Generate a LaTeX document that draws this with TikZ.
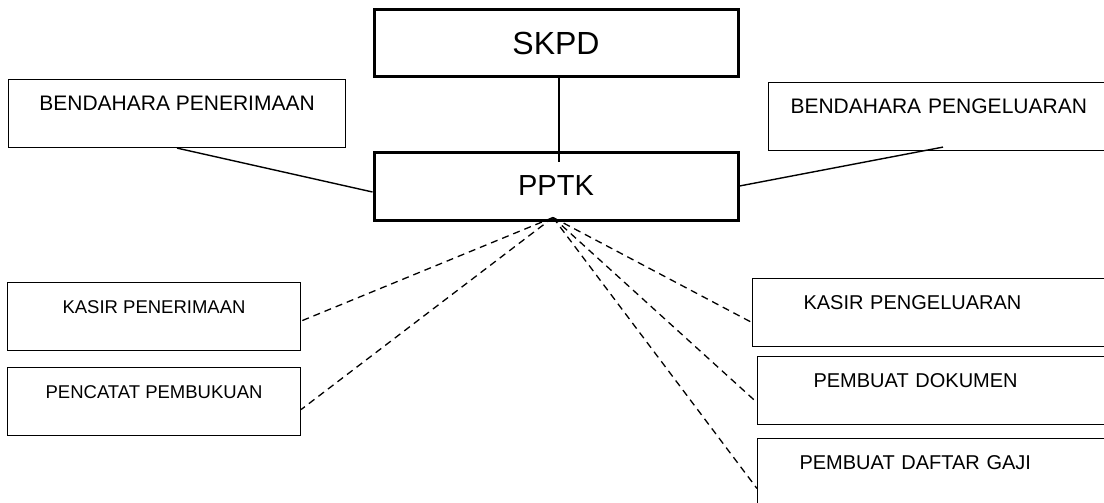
\documentclass[tikz,border=0pt]{standalone}
\usepackage{fontspec}
\setmainfont{Liberation Sans}
\begin{document}
\begin{tikzpicture}[x=1pt,y=-1pt,
  unit/.style={draw,line width=1.1pt,inner ysep=0pt,text height=31pt,text depth=37pt,font=\fontsize{20}{24}\selectfont},
  lbox/.style={unit,anchor=north west,minimum width=#1},
  rbox/.style={unit,anchor=north west,align=left,text width=420pt,inner xsep=#1},
  head/.style={draw,line width=3pt,minimum width=364pt,minimum height=67pt,font=\fontsize{30}{36}\selectfont},
  link/.style={line width=1.4pt},
  sub/.style={line width=1.3pt,dash pattern=on 7pt off 5pt}]
\useasboundingbox (0,0) rectangle (1104,503);
\clip (0,0) rectangle (1104,503);
\node[head,font=\fontsize{32}{38}\selectfont] (skpd) at (556,43.5) {SKPD};
\node[head,minimum height=68pt,font=\fontsize{29}{35}\selectfont] (pptk) at (556,186) {PPTK};
\node[lbox=337pt,font=\fontsize{21}{25}\selectfont] (bpen) at (8,79) {BENDAHARA PENERIMAAN};
\node[rbox=22pt,font=\fontsize{21}{25}\selectfont] (bpeng) at (768,82) {BENDAHARA PENGELUARAN};
\node[lbox=293pt,font=\fontsize{18.5}{22}\selectfont] (kpen) at (7,282) {KASIR PENERIMAAN};
\node[lbox=293pt,font=\fontsize{18.5}{22}\selectfont] (pcat) at (7,367) {PENCATAT PEMBUKUAN};
\node[rbox=51pt] (kpeng) at (752,278) {KASIR PENGELUARAN};
\node[rbox=56pt] (pdok) at (757,356) {PEMBUAT DOKUMEN};
\node[rbox=42pt] (pgaji) at (757,438) {PEMBUAT DAFTAR GAJI};
\draw[link] ([xshift=3pt]skpd.south) -- ([xshift=3pt,yshift=-11pt]pptk.north);
\draw[link] (bpen.south) -- ([yshift=-6pt]pptk.west);
\draw[link] (pptk.east) -- ([xshift=175pt,yshift=4pt]bpeng.south west);
\coordinate (apex) at ([xshift=-3pt,yshift=4pt]pptk.south);
\foreach \n/\d in {kpen/4.5,pcat/8}
  \draw[sub] (apex) -- ([yshift=-\d pt]\n.east);
\foreach \n/\d in {kpeng/10,pdok/12,pgaji/16}
  \draw[sub] (apex) -- ([yshift=-\d pt]\n.west);
\end{tikzpicture}
\end{document}
